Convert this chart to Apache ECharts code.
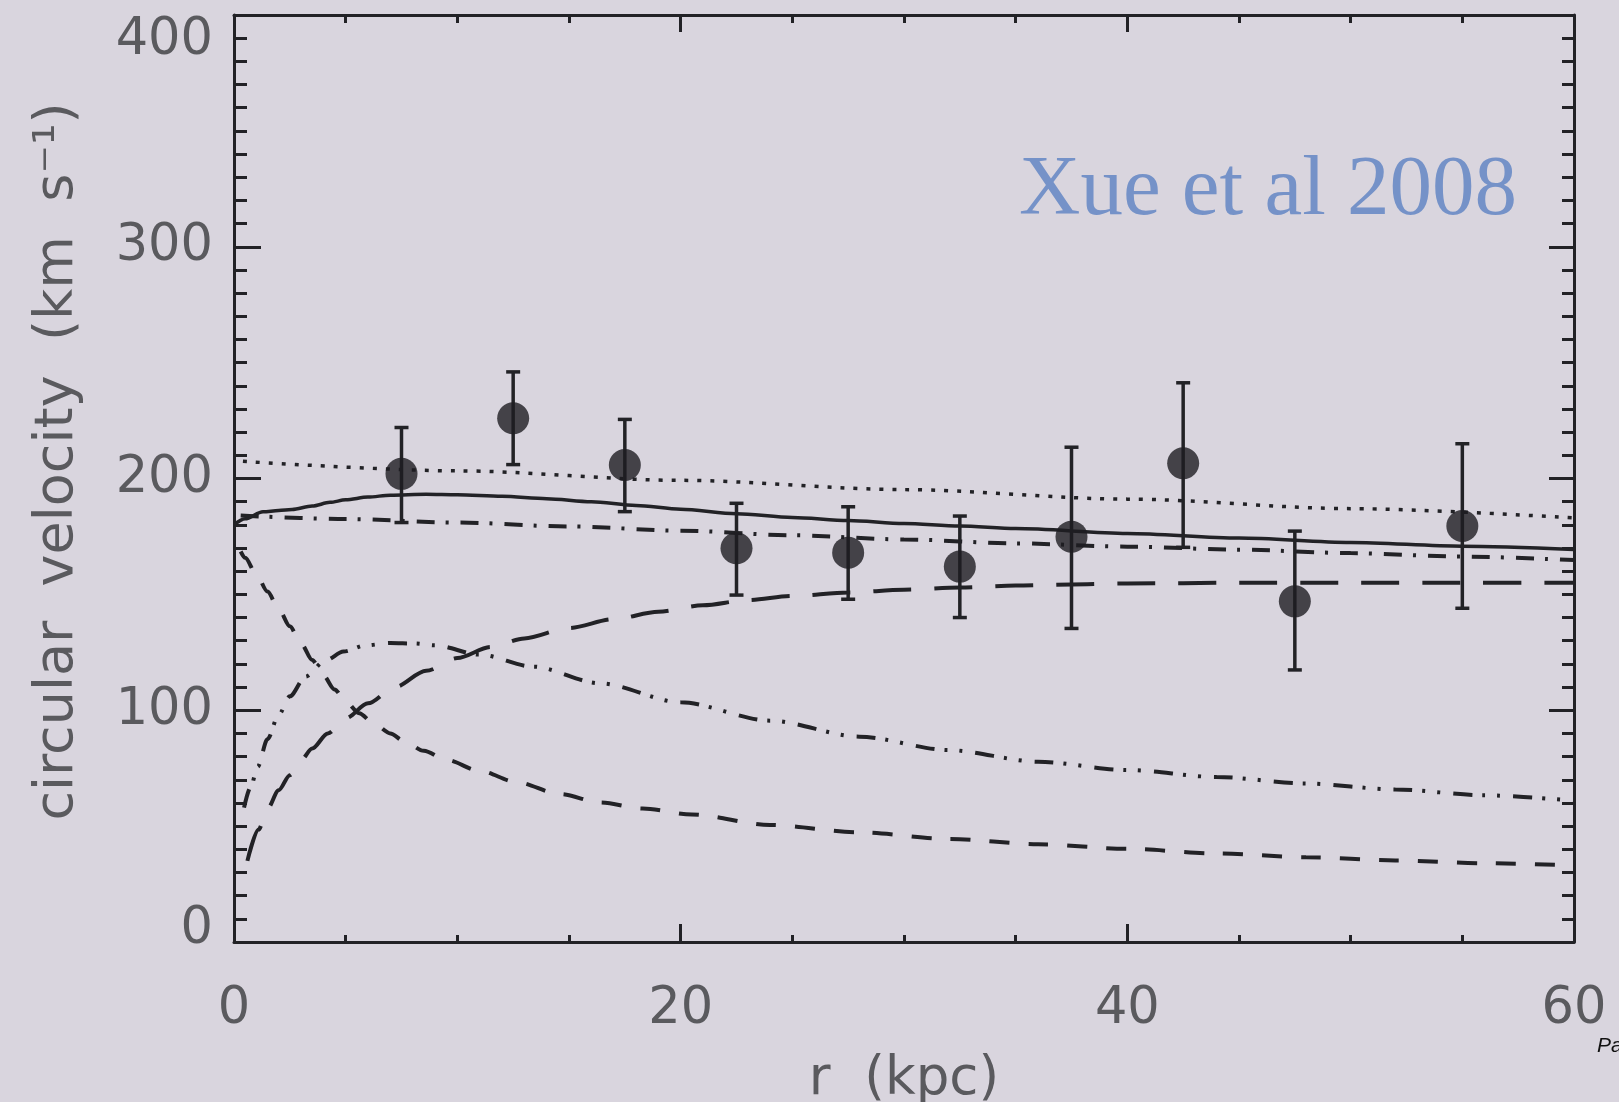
<!DOCTYPE html>
<html>
<head>
<meta charset="utf-8">
<script src="https://cdn.jsdelivr.net/npm/echarts@6/dist/echarts.min.js"></script>
<style>
html,body{margin:0;padding:0;background:#d9d5de;}
#chart{width:1619px;height:1102px;}
</style>
</head>
<body>
<div id="chart"></div>
<script>
// ---- data ----
const xTicks = [0, 20, 40, 60];
const yTicks = [0, 100, 200, 300, 400];
const rKpc   = [7.5, 12.5, 17.5, 22.5, 27.5, 32.5, 37.5, 42.5, 47.5, 55];
const vCirc  = [202, 226, 205.8, 169.9, 168, 162, 174.9, 206.6, 147, 179.5];
const vLow   = [181, 206, 185.7, 149.7, 147.9, 140, 135.3, 170.3, 117.4, 144];
const vHigh  = [222, 246, 225.5, 189.3, 187.8, 183.8, 213.5, 241.3, 177.3, 215];

const totalCurve = [[0,180],[0.5,182.6],[1.3,185.6],[2,186.2],[2.6,186.6],[3.5,188.1],[4.3,189.7],[5,190.8],[6,192],[7,192.8],[8.6,193.2],[10,193],[12,192.3],[14,191.3],[16,190],[18,188.4],[20,186.7],[22.5,184.8],[25,183.2],[27.5,181.9],[30,180.6],[32.5,179.5],[35,178.4],[40,176.3],[45,174.3],[50,172.4],[55,170.8],[60,169.4]];
const dottedCurve = [[0.4,207.4],[10,203.3],[20,199.2],[30,195.2],[40,191.1],[50,187],[60,183]];
const dashDotCurve = [[0.3,184],[5,182.5],[10,181],[15,179.3],[20,177.5],[25,175.5],[30,173.7],[35,172],[40,170.6],[45,169.3],[50,167.8],[55,166.3],[60,164.8]];
const haloCurve = [[0.6,35],[1.1,48.5],[1.5,57.5],[2,65.5],[2.5,72],[3,78.5],[3.5,83.5],[4.2,90],[5,96.5],[6,103],[7.2,110],[8.6,117],[10,122.5],[11.5,127.3],[13,131],[15,135.5],[17,139.3],[19,142.5],[21,145.3],[23,147.5],[25,149.3],[27.5,150.8],[30,152],[32.5,153],[35,153.8],[37.5,154.3],[40,154.7],[45,155],[50,155],[55,155],[60,155]];
const bulgeCurve = [[0.3,168.5],[0.5,165.8],[1,158.6],[1.5,151.2],[2,143.7],[2.5,136.2],[3,128.8],[3.5,121.7],[4,115],[4.5,109],[5,103.8],[5.6,98.7],[6.3,94],[7,90],[7.6,86.8],[8.5,82.5],[9.5,78.6],[11,73.8],[12.65,69],[14.6,63.8],[16.4,60.2],[18.3,57.6],[20.5,55],[24,50.5],[28,47.3],[32,44.5],[36,42.2],[40,40.2],[44,38.2],[48,36.6],[52,35.2],[56,34],[60,33]];
const diskCurve = [[0.45,58],[0.75,67],[1.06,75.6],[1.5,87.5],[2,98],[2.5,106],[3.2,114.5],[4.1,121.5],[4.9,125.3],[5.9,128],[7,129],[8.1,128.8],[9,128],[11,124],[13.4,118.8],[16.4,111.6],[20,103.4],[24,95.5],[28,88.6],[32,82.8],[36,77.8],[40,74.2],[44,71.2],[48,68.4],[52,65.8],[56,63.3],[60,61]];

const annotation = 'Xue et al 2008';
const xName = 'r  (kpc)';
const yName = 'circular  velocity  (km  s\u207B\u00B9)';

// ---- chart ----
const ink = '#222226';
const labelColor = '#5a5a5e';
const labelFont = 'DejaVu Sans';

const chart = echarts.init(document.getElementById('chart'), null, {renderer:'canvas'});

function lineSeries(data, type, width) {
  return {
    type:'line', data:data, xAxisIndex:0, yAxisIndex:0,
    showSymbol:false, smooth:0.3, smoothMonotone:'x',
    lineStyle:{color:ink, width:width, type:type, cap:'butt'},
    silent:true, z:3
  };
}

const baseX = {
  type:'value', min:xTicks[0], max:xTicks[xTicks.length-1], interval:20,
  splitLine:{show:false},
  axisLine:{show:true, onZero:false, lineStyle:{color:ink, width:3}}
};
const baseY = {
  type:'value', min:yTicks[0], max:yTicks[yTicks.length-1], interval:100,
  splitLine:{show:false},
  axisLine:{show:true, onZero:false, lineStyle:{color:ink, width:3}}
};

chart.setOption({
  backgroundColor:'#d9d5de',
  animation:false,
  grid:{left:234, right:45, top:15, bottom:160, containLabel:false, outerBoundsMode:'none'},
  xAxis:[
    Object.assign({}, baseX, {
      position:'bottom',
      name:xName, nameLocation:'middle', nameGap:110,
      nameTextStyle:{fontFamily:labelFont, fontSize:53, color:labelColor, lineHeight:56},
      axisTick:{show:true, inside:true, length:18, lineStyle:{color:ink, width:3}},
      minorTick:{show:true, splitNumber:4, length:7, lineStyle:{color:ink, width:3}},
      axisLabel:{show:true, fontFamily:labelFont, fontSize:51, color:labelColor, margin:50, lineHeight:36}
    }),
    Object.assign({}, baseX, {
      position:'top',
      axisTick:{show:true, inside:true, length:17, lineStyle:{color:ink, width:3}},
      minorTick:{show:true, splitNumber:4, length:8, lineStyle:{color:ink, width:3}},
      axisLabel:{show:false}
    })
  ],
  yAxis:[
    Object.assign({}, baseY, {
      position:'left',
      name:yName, nameLocation:'middle', nameGap:145, nameRotate:90,
      nameTextStyle:{fontFamily:labelFont, fontSize:54, color:labelColor, lineHeight:62, padding:[0,0,0,34]},
      axisTick:{show:true, inside:true, length:27, lineStyle:{color:ink, width:3}},
      minorTick:{show:true, splitNumber:10, length:13, lineStyle:{color:ink, width:3}},
      axisLabel:{show:true, fontFamily:labelFont, fontSize:51, color:labelColor, margin:21, lineHeight:24, padding:[14,0,0,0],
                 verticalAlignMinLabel:'bottom', verticalAlignMaxLabel:'top'}
    }),
    Object.assign({}, baseY, {
      position:'right',
      axisTick:{show:true, inside:true, length:25, lineStyle:{color:ink, width:3}},
      minorTick:{show:true, splitNumber:10, length:12, lineStyle:{color:ink, width:3}},
      axisLabel:{show:false}
    })
  ],
  graphic:[
    {type:'text', left:1019, top:149, silent:true,
     style:{text:annotation, font:'85px "Liberation Serif"', fill:'#7592c8'}},
    {type:'text', left:1597, top:1036, silent:true,
     style:{text:'Pa', font:'italic 21px "Liberation Sans"', fill:'#111'}}
  ],
  series:[
    lineSeries(dottedCurve, [4,9], 3.5),
    lineSeries(totalCurve, 'solid', 3.5),
    lineSeries(dashDotCurve, [18,11,3,12], 4),
    lineSeries(haloCurve, [38,23], 4),
    lineSeries(bulgeCurve, [20,19], 4),
    lineSeries(diskCurve, [19,10,3,12,3,13], 4),
    {
      type:'custom', xAxisIndex:0, yAxisIndex:0, silent:true, z:4,
      data: rKpc.map((r,i)=>[r, vLow[i], vHigh[i]]),
      encode:{x:0, y:[1,2]},
      renderItem:function(params, api){
        const x = api.value(0);
        const lo = api.coord([x, api.value(1)]);
        const hi = api.coord([x, api.value(2)]);
        const hw = 7;
        const st = {stroke:ink, lineWidth:3.5};
        return {type:'group', children:[
          {type:'line', shape:{x1:lo[0], y1:lo[1], x2:hi[0], y2:hi[1]}, style:st},
          {type:'line', shape:{x1:lo[0]-hw, y1:lo[1], x2:lo[0]+hw, y2:lo[1]}, style:st},
          {type:'line', shape:{x1:hi[0]-hw, y1:hi[1], x2:hi[0]+hw, y2:hi[1]}, style:st}
        ]};
      }
    },
    {
      type:'scatter', xAxisIndex:0, yAxisIndex:0, silent:true, z:5,
      data: rKpc.map((r,i)=>[r, vCirc[i]]),
      symbol:'circle', symbolSize:32,
      itemStyle:{color:'#1e1d22'}
    }
  ]
});
</script>
</body>
</html>
